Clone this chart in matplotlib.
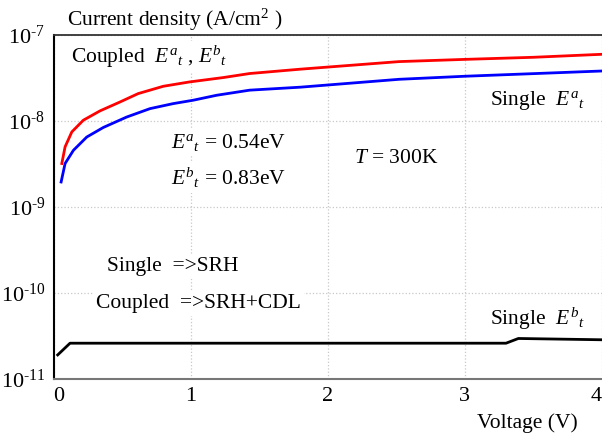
import numpy as np
import matplotlib
matplotlib.use("Agg")
import matplotlib.pyplot as plt
from matplotlib.ticker import FixedLocator

plt.rcParams['font.family'] = ['Liberation Serif', 'DejaVu Serif']
plt.rcParams['mathtext.fontset'] = 'custom'
plt.rcParams['mathtext.rm'] = 'Liberation Serif'
plt.rcParams['mathtext.it'] = 'Liberation Serif:italic'
plt.rcParams['mathtext.bf'] = 'Liberation Serif:bold'

# coupled E^a_t, E^b_t (red)
v_coupled = [0.06, 0.084, 0.133, 0.217, 0.339, 0.484, 0.617, 0.80, 0.99, 1.24, 1.43,
             1.80, 2.52, 3.00, 3.50, 4.00]
j_coupled = [3.2e-9, 5.0e-9, 7.45e-9, 1.02e-8, 1.31e-8, 1.66e-8, 2.08e-8, 2.53e-8, 2.84e-8,
             3.2e-8, 3.56e-8, 4.0e-8, 4.9e-8, 5.2e-8, 5.5e-8, 5.96e-8]
# single E^a_t (blue)
v_single_a = [0.055, 0.084, 0.145, 0.242, 0.363, 0.533, 0.703, 0.872, 1.017, 1.19, 1.43,
              1.80, 2.52, 3.00, 3.50, 4.00]
j_single_a = [1.95e-9, 3.2e-9, 4.56e-9, 6.5e-9, 8.4e-9, 1.11e-8, 1.39e-8, 1.59e-8, 1.74e-8,
              1.99e-8, 2.28e-8, 2.47e-8, 3.05e-8, 3.31e-8, 3.55e-8, 3.81e-8]
# single E^b_t (black)
v_single_b = [0.03, 0.12, 1.00, 2.00, 3.00, 3.30, 3.39, 4.00]
j_single_b = [1.9e-11, 2.6e-11, 2.6e-11, 2.6e-11, 2.6e-11, 2.6e-11, 2.95e-11, 2.85e-11]

x_ticks = [0, 1, 2, 3, 4]
y_ticks = [1e-11, 1e-10, 1e-9, 1e-8, 1e-7]
y_tick_labels = [r'10$^{\text{-}11}$', r'10$^{\text{-}10}$', r'10$^{\text{-}9}$',
                 r'10$^{\text{-}8}$', r'10$^{\text{-}7}$']

fig = plt.figure(figsize=(6.02, 4.37), dpi=100)
ax = fig.add_axes([0.089, 0.133, 0.911, 0.787])

ax.plot(v_coupled, j_coupled, color='#ff0000', lw=2.0, zorder=3)
ax.plot(v_single_a, j_single_a, color='#0000ff', lw=2.0, zorder=3)
ax.plot(v_single_b, j_single_b, color='black', lw=2.0, zorder=3)

ax.set_yscale('log')
ax.set_xlim(0, 4)
ax.set_ylim(1e-11, 1e-7)
ax.xaxis.set_major_locator(FixedLocator(x_ticks))
ax.yaxis.set_major_locator(FixedLocator(y_ticks))
ax.yaxis.set_minor_locator(FixedLocator([]))
ax.set_yticklabels(y_tick_labels)
ax.set_xticklabels([str(t) for t in x_ticks])
ax.tick_params(length=0, labelsize=16, pad=6)
xl = ax.get_xticklabels()
xl[0].set_ha('left')
xl[-1].set_ha('right')
ax.grid(True, color='#c8c8c8', ls=':', lw=0.9, zorder=0)

for s in ['left', 'bottom']:
    ax.spines[s].set_linewidth(1.5)
ax.spines['left'].set_color('black')
ax.spines['bottom'].set_color('#777777')
ax.spines['top'].set_color('#333333')
ax.spines['top'].set_linewidth(1.3)
ax.spines['right'].set_visible(False)

box = dict(facecolor='white', edgecolor='none', pad=2)
fs = 15.5
ax.text(0.13, 10**-7.26, r'Coupled  $E^{a}{}_{t}$ , $E^{b}{}_{t}$', fontsize=fs, va='center', ha='left', bbox=box)
ax.text(3.18, 10**-7.76, r'Single  $E^{a}{}_{t}$', fontsize=fs, va='center', ha='left', bbox=box)
ax.text(0.86, 10**-8.25, r'$E^{a}{}_{t}$ = 0.54eV', fontsize=fs, va='center', ha='left', bbox=box)
ax.text(0.86, 10**-8.66, r'$E^{b}{}_{t}$ = 0.83eV', fontsize=fs, va='center', ha='left', bbox=box)
ax.text(2.19, 10**-8.44, r'$T$ = 300K', fontsize=fs, va='center', ha='left', bbox=box)
ax.text(0.39, 10**-9.69, 'Single  =>SRH', fontsize=fs, va='center', ha='left', bbox=box)
ax.text(0.31, 10**-10.12, 'Coupled  =>SRH+CDL', fontsize=fs, va='center', ha='left', bbox=box)
ax.text(3.18, 10**-10.30, r'Single  $E^{b}{}_{t}$', fontsize=fs, va='center', ha='left', bbox=box)

fig.text(67 / 602, 1 - 20 / 437, r'Current density (A/cm$^{2}$ )', fontsize=15.5, va='center', ha='left')
fig.text(578 / 602, 1 - 423 / 437, 'Voltage (V)', fontsize=15.5, va='center', ha='right')

fig.savefig('out.png', dpi=100)
